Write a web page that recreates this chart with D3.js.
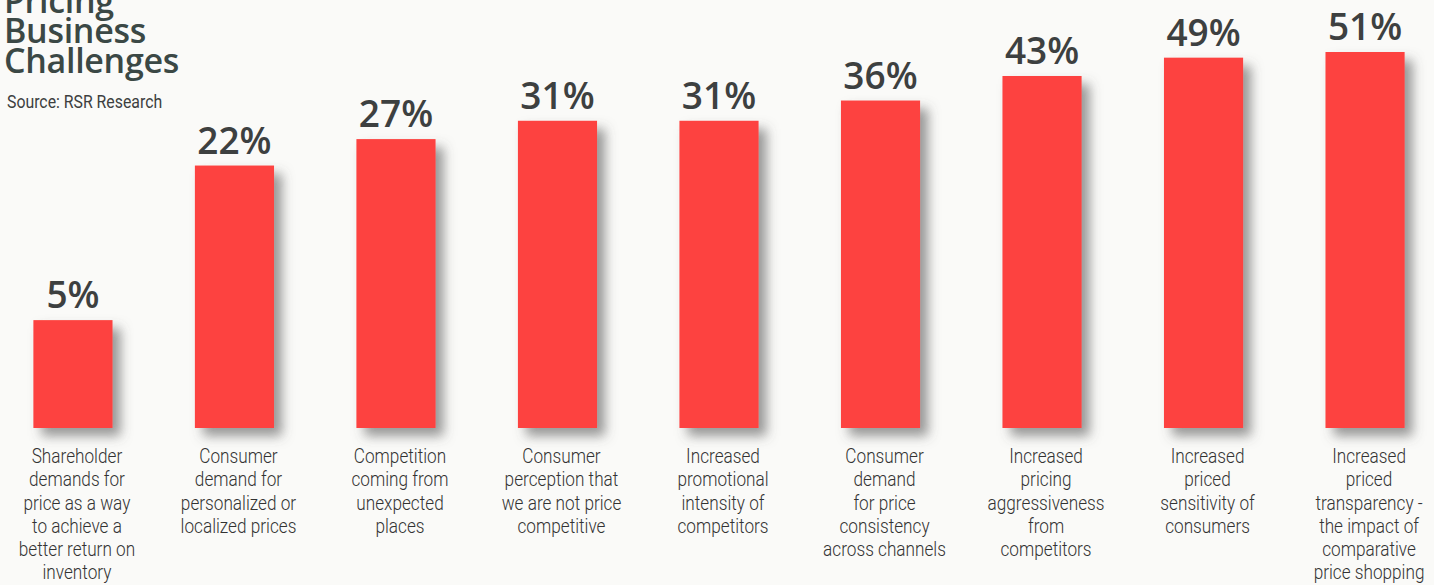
<!DOCTYPE html>
<html>
<head>
<meta charset="utf-8">
<script src="https://cdn.jsdelivr.net/npm/d3@7"></script>
<style>
  html, body { margin: 0; padding: 0; background: #fafaf8; overflow: hidden; }
  svg { display: block; }
</style>
</head>
<body>
<div id="chart"></div>
<script>
// chart data
var categories = [
    "Shareholder\ndemands for\nprice as a way\nto achieve a\nbetter return on\ninventory",
    "Consumer\ndemand for\npersonalized or\nlocalized prices",
    "Competition\ncoming from\nunexpected\nplaces",
    "Consumer\nperception that\nwe are not price\ncompetitive",
    "Increased\npromotional\nintensity of\ncompetitors",
    "Consumer\ndemand\nfor price\nconsistency\nacross channels",
    "Increased\npricing\naggressiveness\nfrom\ncompetitors",
    "Increased\npriced\nsensitivity of\nconsumers",
    "Increased\npriced\ntransparency -\nthe impact of\ncomparative\nprice shopping"
];
var values = [5, 22, 27, 31, 31, 36, 43, 49, 51];
var titleLines = ["Pricing", "Business", "Challenges"];
var sourceText = "Source: RSR Research";

var width = 1434, height = 585;
var baseY = 428, topY = 52;

var svg = d3.select("#chart").append("svg")
    .attr("width", width)
    .attr("height", height);

// soft grey drop shadow behind the bars
var defs = svg.append("defs");
var filter = defs.append("filter")
    .attr("id", "shadow")
    .attr("x", "-20%").attr("y", "-20%")
    .attr("width", "160%").attr("height", "160%");
filter.append("feDropShadow")
    .attr("dx", 8).attr("dy", 8)
    .attr("stdDeviation", 6)
    .attr("flood-color", "#555")
    .attr("flood-opacity", 0.6);

var x = d3.scaleBand()
    .domain(d3.range(values.length))
    .range([-7, 1445])
    .paddingInner(0.51)
    .paddingOuter(0.25);

// the artwork is not linear, a symlog scale follows it closely
var y = d3.scaleSymlog()
    .constant(5)
    .domain([0, d3.max(values)])
    .range([baseY, topY]);

// title block, top left (partly cut off in the scan)
var title = svg.append("text")
    .attr("x", 4)
    .attr("y", 13)
    .style("font-family", "'Open Sans', sans-serif")
    .style("font-weight", 600)
    .style("font-size", "34px")
    .style("letter-spacing", "-0.3px")
    .style("fill", "#3b4845");
title.selectAll("tspan")
    .data(titleLines)
    .join("tspan")
    .attr("x", 4)
    .attr("dy", function (d, i) { return i === 0 ? 0 : 30; })
    .text(function (d) { return d; });

svg.append("text")
    .attr("transform", "translate(7,108) scale(0.88,1)")
    .style("font-family", "Roboto, 'Open Sans', sans-serif")
    .style("font-size", "18px")
    .style("fill", "#3d3f3f")
    .text(sourceText);

var g = svg.append("g");

g.selectAll("rect.bar")
    .data(values)
    .join("rect")
    .attr("class", "bar")
    .attr("x", function (d, i) { return x(i); })
    .attr("y", function (d) { return y(d); })
    .attr("width", x.bandwidth())
    .attr("height", function (d) { return baseY - y(d); })
    .attr("fill", "#fd4340")
    .attr("filter", "url(#shadow)");

g.selectAll("text.value")
    .data(values)
    .join("text")
    .attr("class", "value")
    .attr("x", function (d, i) { return x(i) + x.bandwidth() / 2; })
    .attr("y", function (d) { return y(d) - 12; })
    .attr("text-anchor", "middle")
    .style("font-family", "'Open Sans', sans-serif")
    .style("font-weight", 600)
    .style("font-size", "37px")
    .style("fill", "#3d4040")
    .text(function (d) { return d + "%"; });

var labels = g.selectAll("text.cat")
    .data(categories)
    .join("text")
    .attr("class", "cat")
    .attr("transform", function (d, i) {
        return "translate(" + (x(i) + x.bandwidth() / 2 + 4) + "," + (baseY + 35) + ") scale(0.86,1)";
    })
    .attr("text-anchor", "middle")
    .style("font-family", "Roboto, 'Open Sans', sans-serif")
    .style("font-weight", 300)
    .style("font-size", "20px")
    .style("fill", "#333");

labels.selectAll("tspan")
    .data(function (d) { return d.split("\n"); })
    .join("tspan")
    .attr("x", 0)
    .attr("dy", function (d, i) { return i === 0 ? 0 : 23.3; })
    .text(function (d) { return d; });
</script>
</body>
</html>
